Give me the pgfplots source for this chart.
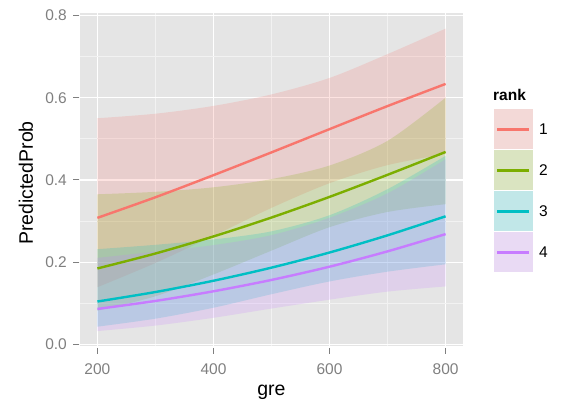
\documentclass[border=0pt]{standalone}
\usepackage{fontspec}
\setmainfont{Liberation Sans}
\usepackage{pgfplots}
\pgfplotsset{compat=1.18}
\usepgfplotslibrary{fillbetween}

\definecolor{r1}{HTML}{F8766D}
\definecolor{r2}{HTML}{7CAE00}
\definecolor{r3}{HTML}{00BFC4}
\definecolor{r4}{HTML}{C77CFF}
\definecolor{panel}{HTML}{E5E5E5}
\definecolor{minorgrid}{HTML}{F2F2F2}
\definecolor{tickgrey}{HTML}{7F7F7F}

\begin{document}
\begin{tikzpicture}
\begin{axis}[
  at={(0,0)}, anchor=south west,
  scale only axis, width=383pt, height=333pt,
  xmin=170, xmax=830, ymin=-0.004, ymax=0.806,
  clip mode=individual,
  axis background/.style={fill=panel},
  axis line style={draw=none},
  tick pos=left, tick align=outside,
  major tick length=0pt, minor tick length=0pt,
  xtick={200,400,600,800}, minor xtick={300,500,700},
  ytick={0,0.2,0.4,0.6,0.8}, minor ytick={0.1,0.3,0.5,0.7},
  xticklabels={200,400,600,800},
  yticklabels={0.0,0.2,0.4,0.6,0.8},
  grid=both,
  major grid style={draw=white, line width=1.2pt},
  minor grid style={draw=minorgrid, line width=0.6pt},
  tick label style={font=\fontsize{15.5}{18}\selectfont, text=tickgrey, inner sep=0pt},
  xticklabel style={anchor=north},
  yticklabel style={anchor=east},
  xticklabel shift=17pt, yticklabel shift=13pt,
  xlabel={gre}, ylabel={PredictedProb},
  every axis x label/.style={at={(axis description cs:0.5,-0.150)}, anchor=base},
  every axis y label/.style={at={(axis description cs:-0.141,0.4895)}, anchor=center, rotate=90},
  label style={font=\fontsize{19.5}{22}\selectfont, inner sep=0pt},
  /pgf/number format/assume math mode=true,
]
% short grey tick marks outside the panel
\pgfplotsinvokeforeach{200,400,600,800}{
  \draw[tickgrey, line width=1.1pt] ([yshift=-2pt]axis cs:#1,-0.004) -- ([yshift=-8.5pt]axis cs:#1,-0.004);
}
\pgfplotsinvokeforeach{0,0.2,0.4,0.6,0.8}{
  \draw[tickgrey, line width=1.1pt] ([xshift=-0.5pt]axis cs:170,#1) -- ([xshift=-7pt]axis cs:170,#1);
}

% confidence bands (lower / upper limits) for each rank
\addplot[name path=u1, draw=none, smooth, forget plot] coordinates {(200,0.550)(300,0.561)(400,0.580)(500,0.608)(600,0.648)(700,0.706)(800,0.768)};
\addplot[name path=l1, draw=none, smooth, forget plot] coordinates {(200,0.139)(300,0.198)(400,0.264)(500,0.332)(600,0.392)(700,0.436)(800,0.463)};
\addplot[fill=r1, fill opacity=0.2, draw=none, forget plot] fill between[of=u1 and l1];

\addplot[name path=u2, draw=none, smooth, forget plot] coordinates {(200,0.365)(300,0.371)(400,0.382)(500,0.402)(600,0.435)(700,0.495)(800,0.600)};
\addplot[name path=l2, draw=none, smooth, forget plot] coordinates {(200,0.082)(300,0.117)(400,0.170)(500,0.228)(600,0.285)(700,0.322)(800,0.341)};
\addplot[fill=r2, fill opacity=0.2, draw=none, forget plot] fill between[of=u2 and l2];

\addplot[name path=u3, draw=none, smooth, forget plot] coordinates {(200,0.2315)(300,0.2421)(400,0.2552)(500,0.2749)(600,0.3141)(700,0.3775)(800,0.4586)};
\addplot[name path=l3, draw=none, smooth, forget plot] coordinates {(200,0.0430)(300,0.0625)(400,0.0891)(500,0.1220)(600,0.1530)(700,0.1768)(800,0.1947)};
\addplot[fill=r3, fill opacity=0.2, draw=none, forget plot] fill between[of=u3 and l3];

\addplot[name path=u4, draw=none, smooth, forget plot] coordinates {(200,0.2103)(300,0.2255)(400,0.2414)(500,0.2656)(600,0.3079)(700,0.3673)(800,0.4502)};
\addplot[name path=l4, draw=none, smooth, forget plot] coordinates {(200,0.0323)(300,0.0457)(400,0.0646)(500,0.0871)(600,0.1087)(700,0.1283)(800,0.1409)};
\addplot[fill=r4, fill opacity=0.2, draw=none, forget plot] fill between[of=u4 and l4];

% predicted probabilities
\addplot[r1, line width=2.4pt, smooth] coordinates {(200,0.3077)(300,0.3578)(400,0.4115)(500,0.4670)(600,0.5235)(700,0.5796)(800,0.6335)};
\addplot[r2, line width=2.4pt, smooth] coordinates {(200,0.1846)(300,0.2210)(400,0.2625)(500,0.3085)(600,0.3587)(700,0.4124)(800,0.4680)};
\addplot[r3, line width=2.4pt, smooth] coordinates {(200,0.1042)(300,0.1273)(400,0.1547)(500,0.1866)(600,0.2234)(700,0.2652)(800,0.3115)};
\addplot[r4, line width=2.4pt, smooth] coordinates {(200,0.0861)(300,0.1056)(400,0.1291)(500,0.1567)(600,0.1889)(700,0.2262)(800,0.2682)};
\end{axis}

% legend
\node[anchor=west, inner sep=0pt, font=\bfseries\fontsize{15.5}{18}\selectfont] at (413pt,251pt) {rank};
\foreach \c/\lab/\yb in {r1/1/196, r2/2/155, r3/3/114, r4/4/73} {
  \fill[minorgrid] (413pt,\yb pt) rectangle (453pt,\yb pt+41pt);
  \fill[\c, opacity=0.2] (413pt,\yb pt) rectangle (453pt,\yb pt+41pt);
  \draw[white, line width=1pt] (413pt,\yb pt) rectangle (453pt,\yb pt+41pt);
  \draw[\c, line width=2.4pt] (417pt,\yb pt+20.5pt) -- (449pt,\yb pt+20.5pt);
  \node[anchor=west, inner sep=0pt, font=\fontsize{15.5}{18}\selectfont] at (459pt,\yb pt+20.5pt) {\lab};
}

% page frame around the whole figure
\pgfresetboundingbox
\useasboundingbox (-80pt,-57pt) rectangle (483pt,346pt);
\end{tikzpicture}
\end{document}
